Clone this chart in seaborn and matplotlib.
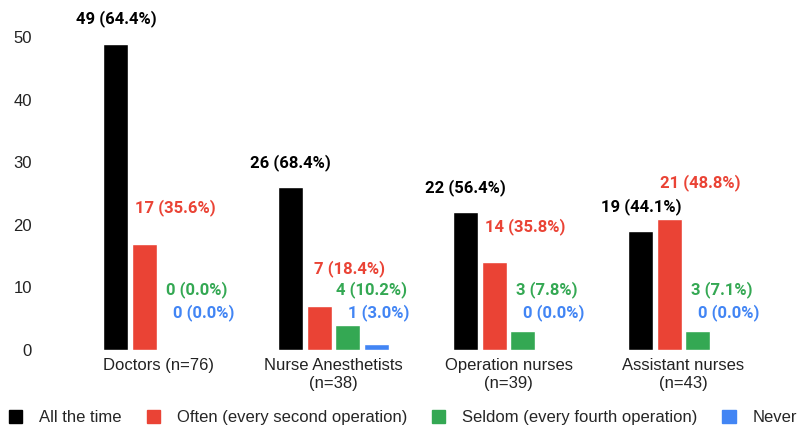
import matplotlib
matplotlib.use("Agg")
import matplotlib.pyplot as plt
from matplotlib.patches import Patch
import seaborn as sns
import pandas as pd

# ---------------------------------------------------------------------
# Data
# ---------------------------------------------------------------------
groups = ["Doctors (n=76)", "Nurse Anesthetists\n(n=38)",
          "Operation nurses\n(n=39)", "Assistant nurses\n(n=43)"]
answers = ["All the time", "Often (every second operation)",
           "Seldom (every fourth operation)", "Never"]

all_the_time = [49, 26, 22, 19]
often = [17, 7, 14, 21]
seldom = [0, 4, 3, 3]
never = [0, 1, 0, 0]

pct_all_the_time = [64.4, 68.4, 56.4, 44.1]
pct_often = [35.6, 18.4, 35.8, 48.8]
pct_seldom = [0.0, 10.2, 7.8, 7.1]
pct_never = [0.0, 3.0, 0.0, 0.0]

colors = ["#000000", "#EA4335", "#34A853", "#4285F4"]

counts = [all_the_time, often, seldom, never]
pcts = [pct_all_the_time, pct_often, pct_seldom, pct_never]

rows = []
for ans, vals, ps in zip(answers, counts, pcts):
    for g, v, p in zip(groups, vals, ps):
        rows.append({"group": g, "answer": ans, "count": v, "pct": p})
df = pd.DataFrame(rows)

# label placement per series: (x shift in points, lift above bar, floor)
label_style = [(0, 4.0, 0.0), (22, 5.7, 13.0), (17, 5.5, 9.6), (2, 5.0, 6.0)]

# ---------------------------------------------------------------------
# Plot
# ---------------------------------------------------------------------
sns.set_style("white")
plt.rcParams["font.family"] = ["Liberation Sans", "DejaVu Sans"]

fig = plt.figure(figsize=(8.01, 4.32), dpi=100)
ax = fig.add_axes([0.0886, 0.19, 0.874, 0.796])

sns.barplot(data=df, x="group", y="count", hue="answer",
            order=groups, hue_order=answers, palette=colors,
            width=0.65, gap=0.12, saturation=1, ax=ax, legend=False)

for cont, ps, col, (dx, lift, floor) in zip(ax.containers, pcts, colors, label_style):
    for bar, p in zip(cont.patches, ps):
        v = bar.get_height()
        xc = bar.get_x() + bar.get_width() / 2
        ax.annotate(f"{int(round(v))} ({p:.1f}%)", (xc, max(v + lift, floor)),
                    xytext=(dx, 0), textcoords="offset points",
                    ha="center", va="center", color=col, fontsize=12,
                    fontweight="bold", family=["Roboto", "DejaVu Sans"],
                    annotation_clip=False)

ax.set_ylim(0, 55)
ax.set_xlim(-0.5, 3.5)
ax.set_yticks([0, 10, 20, 30, 40, 50])
ax.set_xlabel("")
ax.set_ylabel("")
sns.despine(ax=ax, left=True, bottom=True)
ax.tick_params(axis="y", length=0, pad=28, labelsize=12, colors="#222222")
ax.tick_params(axis="x", length=0, pad=6, labelsize=12, colors="#222222")

handles = [Patch(facecolor=c, edgecolor=c) for c in colors]
fig.legend(handles, answers, loc="center", bbox_to_anchor=(0.503, 0.033),
           ncol=4, frameon=False, fontsize=12, handlelength=0.8,
           handleheight=0.8, handletextpad=1.0, columnspacing=1.5)

fig.savefig("out.png", dpi=100)
